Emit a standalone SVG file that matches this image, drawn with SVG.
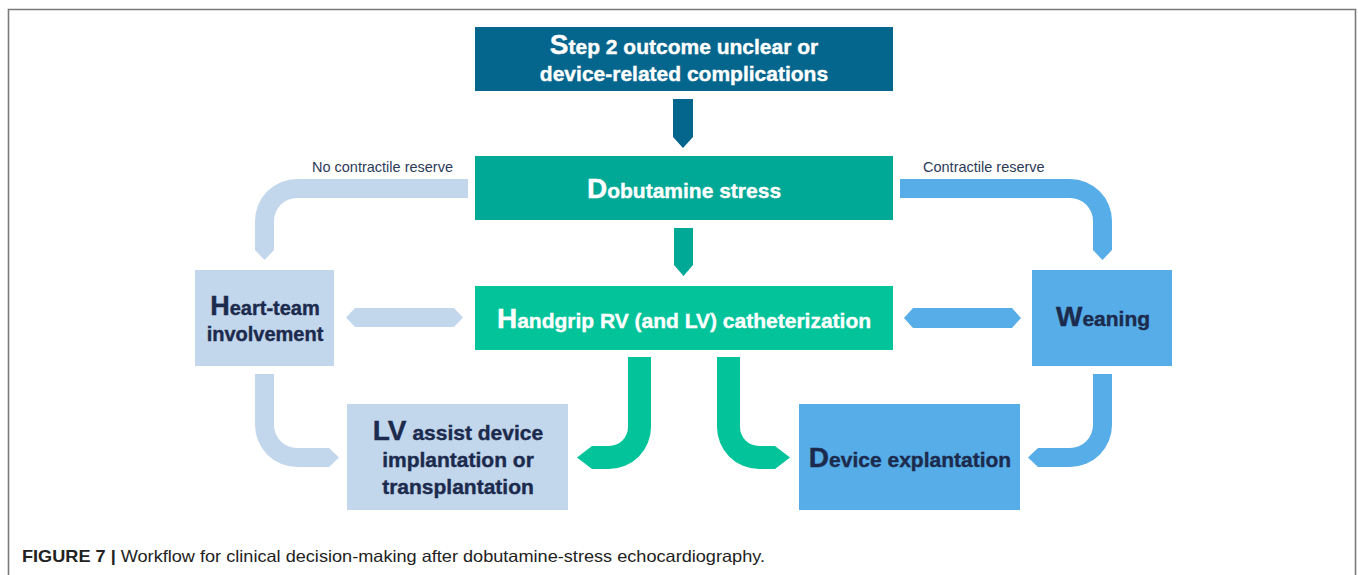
<svg xmlns="http://www.w3.org/2000/svg" width="1358" height="575" viewBox="0 0 1358 575">
<style>
.t{font-family:"Liberation Sans",Arial,sans-serif;font-weight:bold;font-size:21px;text-anchor:middle;stroke-width:0.4px}
.w{fill:#ffffff;stroke:#ffffff}
.d{fill:#1c2b4d;stroke:#1c2b4d}
.big{font-size:28px}
.lbl{font-family:"Liberation Sans",Arial,sans-serif;font-size:14.5px;fill:#2d3b5a}
.lb{fill:#c2d6ec}
.bl{fill:#56ade8}
.gr{fill:#02c39a}
</style>
<rect x="0" y="0" width="1358" height="575" fill="#ffffff"/>
<path d="M8.5,575 L8.5,9.5 L1355.5,9.5 L1355.5,575" fill="none" stroke="#7a7a7a" stroke-width="1.6"/>
<g id="connectors">
<path d="M673,99 L693,99 L693,137 L683,148 L673,137 Z" fill="#05668d"/>
<path d="M674,228 L693,228 L693,265 L683.5,276 L674,265 Z" fill="#00a896"/>
<path class="lb" d="M468,179 L297,179 A42,42 0 0 0 255,221 L255,250 L264.5,260 L274,250 L274,221 A23,23 0 0 1 297,198 L468,198 Z"/>
<path class="bl" d="M900,179 L1070,179 A42,42 0 0 1 1112,221 L1112,250 L1102.5,260 L1093,250 L1093,221 A23,23 0 0 0 1070,198 L900,198 Z"/>
<path class="lb" d="M255,374 L255,425 A42,42 0 0 0 297,467 L329,467 L339,457.5 L329,448 L297,448 A23,23 0 0 1 274,425 L274,374 Z"/>
<path class="bl" d="M1112,374 L1112,425 A42,42 0 0 1 1070,467 L1038,467 L1028,457.5 L1038,448 L1070,448 A23,23 0 0 0 1093,425 L1093,374 Z"/>
<path class="gr" d="M628,357 L651,357 L651,427 A42,42 0 0 1 609,469 L592,469 L577,457.5 L592,446 L609,446 A19,19 0 0 0 628,427 Z"/>
<path class="gr" d="M717,357 L740,357 L740,427 A19,19 0 0 0 759,446 L775,446 L790,457.5 L775,469 L759,469 A42,42 0 0 1 717,427 Z"/>
<path class="lb" d="M346,317.5 L355,308 L454,308 L463,317.5 L454,327 L355,327 Z"/>
<path class="bl" d="M904,318 L913,308 L1012,308 L1021,318 L1012,328 L913,328 Z"/>
<text class="lbl" x="453" y="172" text-anchor="end">No contractile reserve</text>
<text class="lbl" x="923" y="172">Contractile reserve</text>
</g>
<g id="step2">
<rect x="475" y="27" width="418" height="64" fill="#05668d"/>
<text class="t w" x="684" y="54"><tspan class="big">S</tspan>tep 2 outcome unclear or</text>
<text class="t w" x="684" y="81">device-related complications</text>
</g>
<g id="dobutamine">
<rect x="475" y="156" width="418" height="64" fill="#00a896"/>
<text class="t w" x="684" y="198"><tspan class="big">D</tspan>obutamine stress</text>
</g>
<g id="handgrip">
<rect x="475" y="286" width="418" height="64" fill="#02c39a"/>
<text class="t w" x="684" y="328"><tspan class="big">H</tspan>andgrip RV (and LV) catheterization</text>
</g>
<g id="heartteam">
<rect x="195" y="270" width="139" height="96" fill="#c2d6ec"/>
<text class="t d" x="265" y="315" style="font-size:20px"><tspan style="font-size:27px">H</tspan>eart-team</text>
<text class="t d" x="265" y="341" style="font-size:20px">involvement</text>
</g>
<g id="weaning">
<rect x="1032" y="270" width="140" height="96" fill="#56ade8"/>
<text class="t d" x="1103" y="326"><tspan class="big">W</tspan>eaning</text>
</g>
<g id="lvassist">
<rect x="347" y="404" width="221" height="106" fill="#c2d6ec"/>
<text class="t d" x="458" y="440"><tspan class="big">LV</tspan> assist device</text>
<text class="t d" x="458" y="467">implantation or</text>
<text class="t d" x="458" y="494">transplantation</text>
</g>
<g id="explant">
<rect x="799" y="404" width="221" height="106" fill="#56ade8"/>
<text class="t d" x="910" y="467"><tspan class="big">D</tspan>evice explantation</text>
</g>
<text x="22" y="562" font-family="'Liberation Sans Narrow','Liberation Sans',Arial,sans-serif" font-size="16.5" fill="#222222" textLength="743" lengthAdjust="spacingAndGlyphs"><tspan font-weight="bold">FIGURE 7 |</tspan> Workflow for clinical decision-making after dobutamine-stress echocardiography.</text>
</svg>
